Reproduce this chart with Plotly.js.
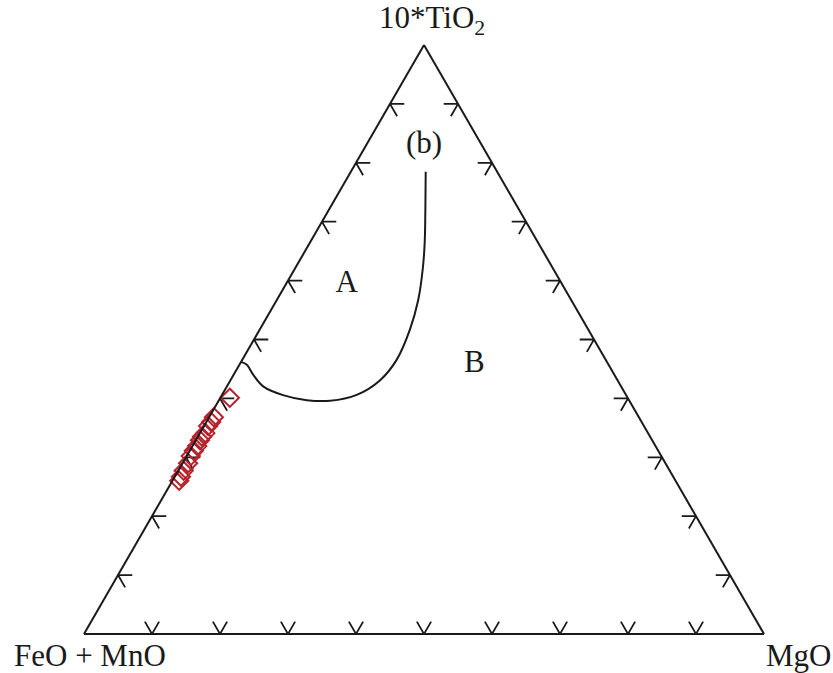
<!DOCTYPE html>
<html>
<head>
<meta charset="utf-8">
<script src="https://cdn.plot.ly/plotly-3.0.1.min.js"></script>
<style>
  html, body { margin: 0; padding: 0; background: #fff; }
  #chart { width: 833px; height: 673px; }
</style>
</head>
<body>
<div id="chart"></div>
<script>
// Sample compositions (wt% normalised to 100): 10*TiO2, FeO+MnO, MgO
const sampleTiO2 = [40.1, 36.8, 36.0, 35.3, 34.1, 33.5, 32.9, 31.9, 31.1, 30.2, 29.0, 27.7, 26.7, 26.0];
const sampleFeO  = [58.5, 62.5, 63.3, 64.1, 65.1, 65.9, 66.5, 67.4, 68.3, 69.2, 70.2, 71.5, 72.4, 73.0];
const sampleMgO  = [1.4, 0.7, 0.7, 0.6, 0.8, 0.6, 0.6, 0.7, 0.6, 0.6, 0.8, 0.8, 0.9, 1.0];

// Boundary between field A and field B
const boundTiO2 = [78.5, 72.0, 66.4, 61.8, 56.7, 51.6, 46.5, 43.1, 40.6, 39.6, 39.7, 40.6, 42.0, 44.0, 45.7, 46.2];
const boundFeO  = [10.5, 13.8, 16.7, 19.3, 22.5, 26.3, 30.8, 34.9, 39.6, 44.0, 47.4, 50.5, 52.6, 53.1, 53.2, 53.8];
const boundMgO  = [11.0, 14.2, 16.9, 18.9, 20.8, 22.1, 22.7, 22.0, 19.8, 16.4, 12.9, 9.0, 5.4, 2.9, 1.1, 0.0];

// Field labels
const fieldText = ['(b)', 'A', 'B'];
const fieldTiO2 = [83.0, 59.3, 45.8];
const fieldFeO  = [8.5, 31.7, 19.7];
const fieldMgO  = [8.5, 9.0, 34.5];

// Tick positions along each edge
const tickVals = [10, 20, 30, 40, 50, 60, 70, 80, 90];
const tickLen = 2.1;

// Chevron ticks: two short grid-line stubs at every tick on each edge
const tk = { a: [], b: [], c: [] };
function pushPt(a, b, c) { tk.a.push(a); tk.b.push(b); tk.c.push(c); }
function gap() { tk.a.push(null); tk.b.push(null); tk.c.push(null); }
tickVals.forEach(v => {
  // left edge (MgO = 0)
  pushPt(v, 100 - v - tickLen, tickLen);
  pushPt(v, 100 - v, 0);
  pushPt(v - tickLen, 100 - v, tickLen);
  gap();
  // right edge (FeO = 0)
  pushPt(v, tickLen, 100 - v - tickLen);
  pushPt(v, 0, 100 - v);
  pushPt(v - tickLen, tickLen, 100 - v);
  gap();
  // bottom edge (TiO2 = 0)
  pushPt(tickLen, 100 - v, v - tickLen);
  pushPt(0, 100 - v, v);
  pushPt(tickLen, 100 - v - tickLen, v);
  gap();
});

const serif = '"Liberation Serif", "DejaVu Serif", serif';
const ink = '#1a1a1a';

const traces = [
  {
    type: 'scatterternary', mode: 'lines',
    a: tk.a, b: tk.b, c: tk.c,
    line: { color: ink, width: 1.8 },
    hoverinfo: 'skip', showlegend: false
  },
  {
    type: 'scatterternary', mode: 'lines',
    a: boundTiO2, b: boundFeO, c: boundMgO,
    line: { color: ink, width: 2, shape: 'spline', smoothing: 1 },
    showlegend: false
  },
  {
    type: 'scatterternary', mode: 'text',
    a: fieldTiO2, b: fieldFeO, c: fieldMgO,
    text: fieldText, textposition: 'middle center',
    textfont: { family: serif, size: 31, color: ink },
    showlegend: false
  },
  {
    type: 'scatterternary', mode: 'markers',
    a: sampleTiO2, b: sampleFeO, c: sampleMgO,
    cliponaxis: false,
    marker: { symbol: 'diamond-open', size: 14, color: '#b5232b', line: { width: 2, color: '#b5232b' } },
    showlegend: false
  }
];

const axisCommon = {
  title: { text: '' },
  showgrid: false, showticklabels: false, ticks: '',
  showline: true, linecolor: ink, linewidth: 2
};

const layout = {
  width: 833, height: 673,
  margin: { l: 84, r: 69, t: 45, b: 39 },
  paper_bgcolor: '#fff',
  font: { family: serif, color: ink },
  showlegend: false,
  ternary: {
    sum: 100,
    bgcolor: '#fff',
    aaxis: Object.assign({}, axisCommon),
    baxis: Object.assign({}, axisCommon),
    caxis: Object.assign({}, axisCommon)
  },
  annotations: [
    { text: '10*TiO<sub>2</sub>', xref: 'paper', yref: 'paper', x: 0.5, y: 1.0,
      xanchor: 'center', yanchor: 'bottom', yshift: 3, xshift: 8, showarrow: false,
      font: { family: serif, size: 31, color: ink } },
    { text: 'FeO + MnO', xref: 'paper', yref: 'paper', x: 0, y: 0,
      xanchor: 'center', yanchor: 'top', xshift: 6, yshift: -2, showarrow: false,
      font: { family: serif, size: 31, color: ink } },
    { text: 'MgO', xref: 'paper', yref: 'paper', x: 1, y: 0,
      xanchor: 'left', yanchor: 'top', xshift: 0, yshift: -2, showarrow: false,
      font: { family: serif, size: 31, color: ink } }
  ]
};

Plotly.newPlot('chart', traces, layout, { displayModeBar: false, staticPlot: true });
</script>
</body>
</html>
